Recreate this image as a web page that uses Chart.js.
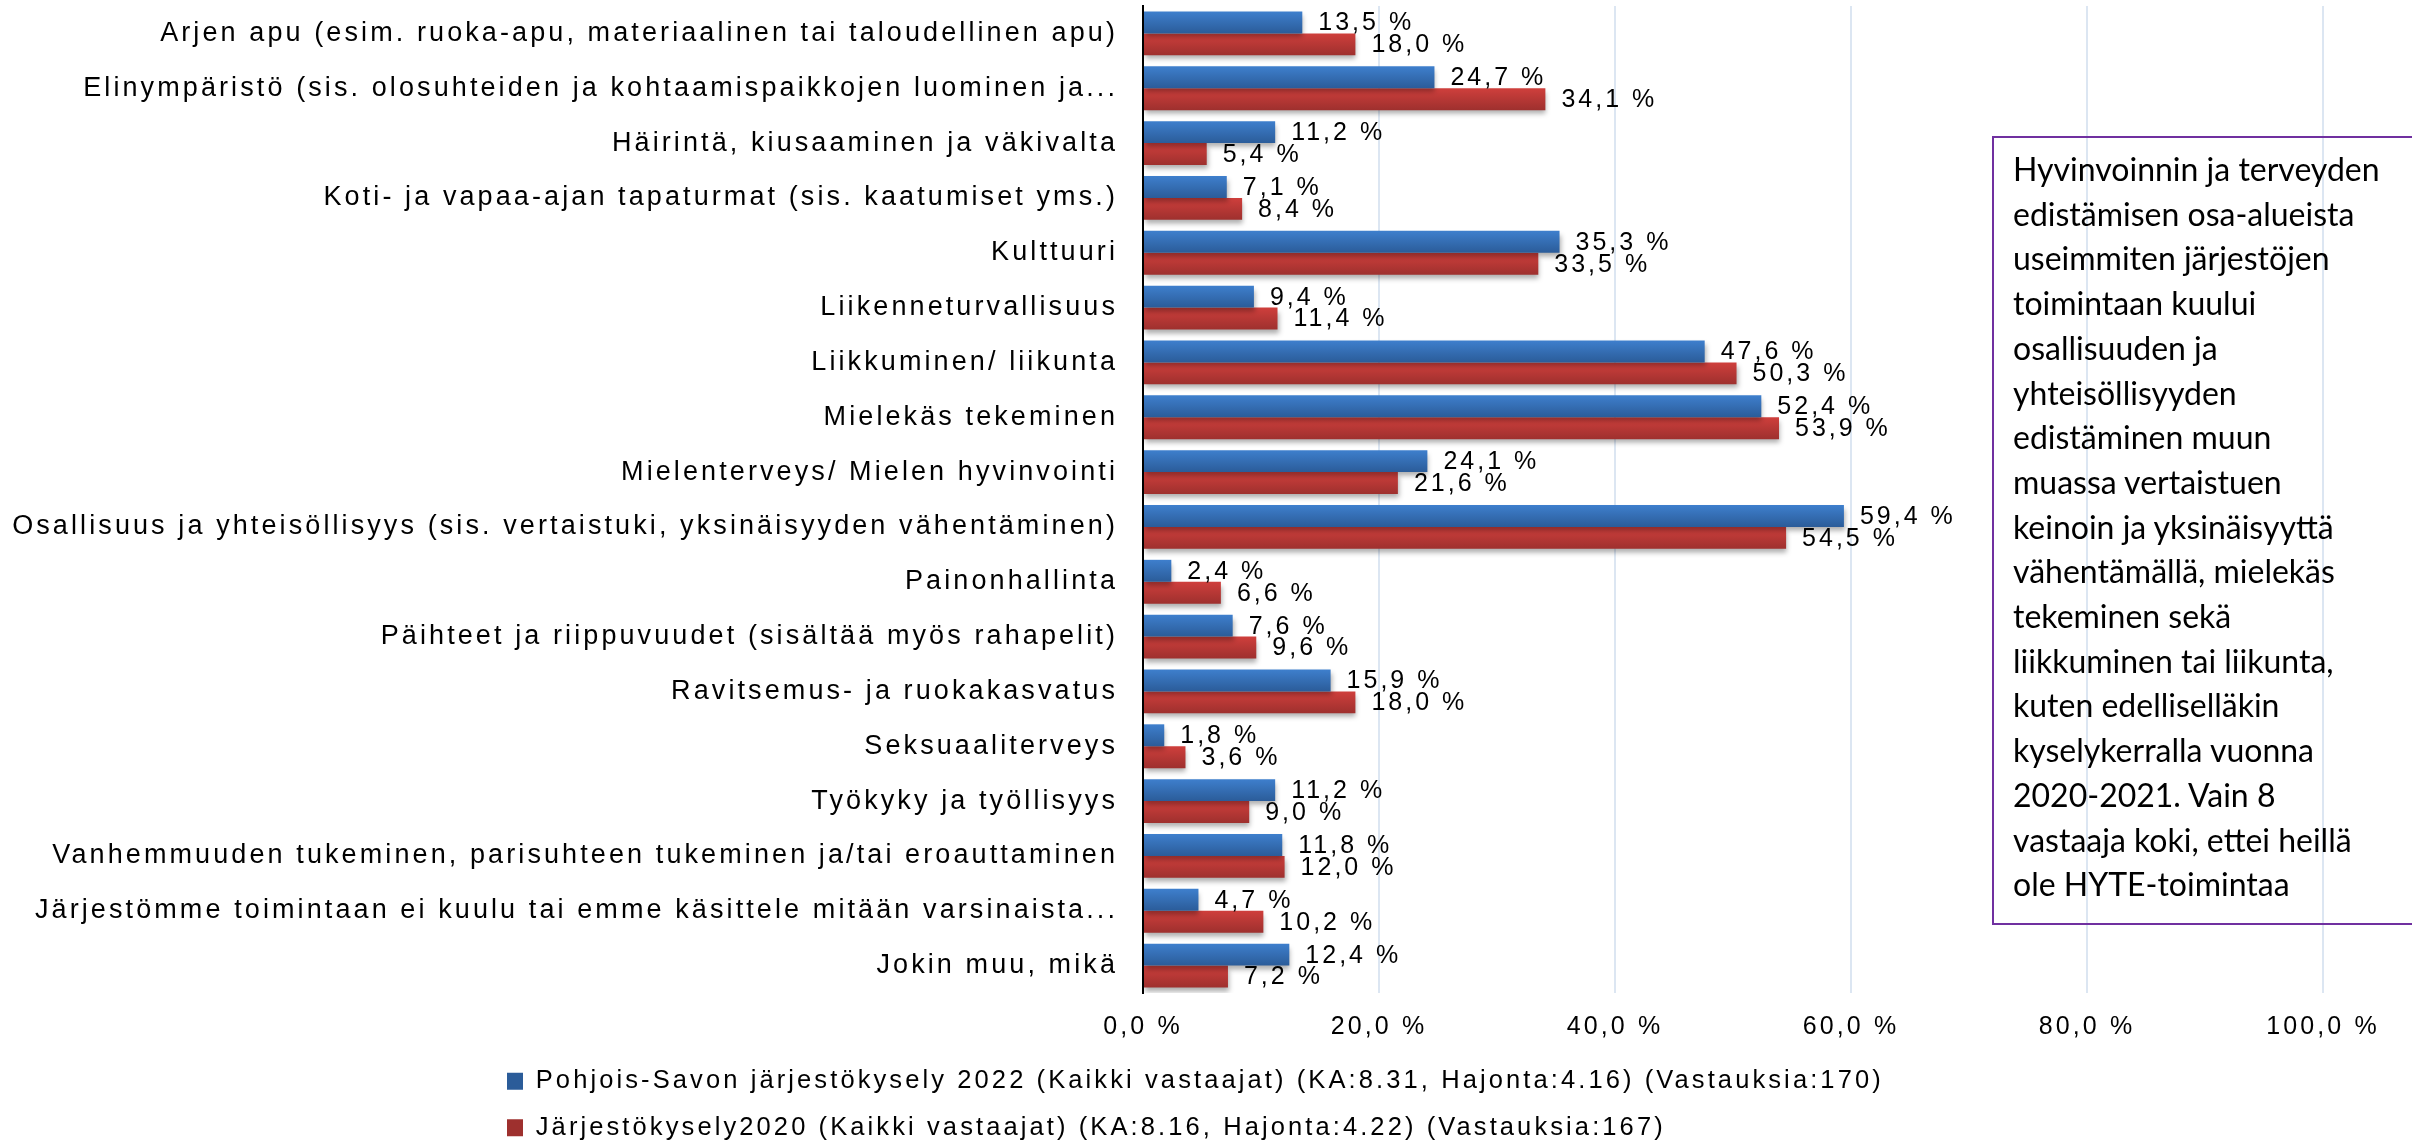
<!DOCTYPE html>
<html>
<head>
<meta charset="utf-8">
<script src="https://cdn.jsdelivr.net/npm/chart.js@4/dist/chart.umd.min.js"></script>
<style>
  html, body { margin: 0; padding: 0; background: #fff; }
  #wrap { position: relative; width: 2412px; height: 1141px; overflow: hidden; }
  #c { position: absolute; left: 0; top: 0; }
  #note {
    position: absolute; left: 1992px; top: 136px; width: 460px; height: 789px;
    border: 2px solid #7030a0; box-sizing: border-box;
    padding: 9px 0 0 19px;
    font-family: Lato, "Open Sans", sans-serif; font-size: 32px; line-height: 44.7px;
    color: #000; white-space: nowrap;
  }
</style>
</head>
<body>
<div id="wrap">
<canvas id="c" width="2412" height="1141"></canvas>
<div id="note">Hyvinvoinnin ja terveyden<br>edistämisen osa-alueista<br>useimmiten järjestöjen<br>toimintaan kuului<br>osallisuuden ja<br>yhteisöllisyyden<br>edistäminen muun<br>muassa vertaistuen<br>keinoin ja yksinäisyyttä<br>vähentämällä, mielekäs<br>tekeminen sekä<br>liikkuminen tai liikunta,<br>kuten edelliselläkin<br>kyselykerralla vuonna<br>2020-2021. Vain 8<br>vastaaja koki, ettei heillä<br>ole HYTE-toimintaa</div>
</div>
<script>
const categories = [
  "Arjen apu (esim. ruoka-apu, materiaalinen tai taloudellinen apu)",
  "Elinympäristö (sis. olosuhteiden ja kohtaamispaikkojen luominen ja...",
  "Häirintä, kiusaaminen ja väkivalta",
  "Koti- ja vapaa-ajan tapaturmat (sis. kaatumiset yms.)",
  "Kulttuuri",
  "Liikenneturvallisuus",
  "Liikkuminen/ liikunta",
  "Mielekäs tekeminen",
  "Mielenterveys/ Mielen hyvinvointi",
  "Osallisuus ja yhteisöllisyys (sis. vertaistuki, yksinäisyyden vähentäminen)",
  "Painonhallinta",
  "Päihteet ja riippuvuudet (sisältää myös rahapelit)",
  "Ravitsemus- ja ruokakasvatus",
  "Seksuaaliterveys",
  "Työkyky ja työllisyys",
  "Vanhemmuuden tukeminen, parisuhteen tukeminen ja/tai eroauttaminen",
  "Järjestömme toimintaan ei kuulu tai emme käsittele mitään varsinaista...",
  "Jokin muu, mikä"
];
const series2022 = [13.5, 24.7, 11.2, 7.1, 35.3, 9.4, 47.6, 52.4, 24.1, 59.4, 2.4, 7.6, 15.9, 1.8, 11.2, 11.8, 4.7, 12.4];
const series2020 = [18.0, 34.1, 5.4, 8.4, 33.5, 11.4, 50.3, 53.9, 21.6, 54.5, 6.6, 9.6, 18.0, 3.6, 9.0, 12.0, 10.2, 7.2];
const seriesNames = [
  "Pohjois-Savon järjestökysely 2022 (Kaikki vastaajat) (KA:8.31, Hajonta:4.16) (Vastauksia:170)",
  "Järjestökysely2020 (Kaikki vastaajat) (KA:8.16, Hajonta:4.22) (Vastauksia:167)"
];
const xTickLabels = ["0,0 %", "20,0 %", "40,0 %", "60,0 %", "80,0 %", "100,0 %"];

const FONT = "'Liberation Sans', Arial, sans-serif";
const colorStops = [
  ['#3e7fcd', '#2b5c99', '#3570b8'],
  ['#cf3f3c', '#9e302e', '#be3936']
];
const CAT_PCT = 0.8;

function barFill(dsIndex) {
  return (c) => {
    const stops = colorStops[dsIndex];
    const chart = c.chart;
    const ys = chart.scales && chart.scales.y;
    if (c.dataIndex === undefined || !ys || !chart.chartArea) return stops[2];
    const center = ys.getPixelForValue(c.dataIndex);
    const pitch = Math.abs(ys.getPixelForValue(1) - ys.getPixelForValue(0));
    if (!isFinite(center) || !isFinite(pitch) || pitch === 0) return stops[2];
    const bw = pitch * CAT_PCT / 2;
    const top = center - pitch * CAT_PCT / 2 + dsIndex * bw;
    const g = chart.ctx.createLinearGradient(0, top, 0, top + bw);
    g.addColorStop(0, stops[0]);
    g.addColorStop(1, stops[1]);
    return g;
  };
}

function fmt(v) { return v.toFixed(1).replace('.', ',') + ' %'; }

const spacingPlugin = {
  id: 'spacing',
  beforeUpdate(chart) { chart.ctx.letterSpacing = '3.1px'; },
  beforeDraw(chart) {
    chart.ctx.letterSpacing = '3.1px';
    if (chart.legend) {
      chart.legend.left = 486;
      chart.legend.top = 1047.5;
    }
  },
  beforeDatasetsDraw(chart) {
    const ctx = chart.ctx;
    ctx.save();
    ctx.shadowColor = 'rgba(0,0,0,0.32)';
    ctx.shadowBlur = 5;
    ctx.shadowOffsetX = 1;
    ctx.shadowOffsetY = 4;
  },
  afterDatasetsDraw(chart) {
    const ctx = chart.ctx;
    ctx.restore();
    ctx.save();
    ctx.letterSpacing = '3px';
    ctx.font = '25px ' + FONT;
    ctx.fillStyle = '#000';
    ctx.textAlign = 'left';
    ctx.textBaseline = 'middle';
    chart.data.datasets.forEach((ds, di) => {
      const meta = chart.getDatasetMeta(di);
      meta.data.forEach((el, i) => {
        ctx.fillText(fmt(ds.data[i]), el.x + 16, el.y + 1);
      });
    });
    ctx.restore();
  }
};

new Chart(document.getElementById('c'), {
  type: 'bar',
  data: {
    labels: categories,
    datasets: [
      { label: seriesNames[0], data: series2022, backgroundColor: barFill(0), borderWidth: 0 },
      { label: seriesNames[1], data: series2020, backgroundColor: barFill(1), borderWidth: 0 }
    ]
  },
  options: {
    indexAxis: 'y',
    responsive: false,
    animation: false,
    events: [],
    datasets: { bar: { categoryPercentage: CAT_PCT, barPercentage: 1.0 } },
    layout: { padding: { top: 6, right: 89, left: 0, bottom: 0 } },
    scales: {
      y: {
        type: 'category',
        grid: { display: false, drawTicks: false },
        border: { display: true, color: '#000', width: 2, z: 1 },
        ticks: { color: '#000', font: { family: FONT, size: 27 }, padding: 25, autoSkip: false },
        afterFit(s) { s.width = 1143; s.paddingTop = 0; s.paddingBottom = 0; }
      },
      x: {
        type: 'linear',
        min: 0, max: 100,
        grid: { color: '#dce6f2', lineWidth: 2, drawTicks: false },
        border: { display: false },
        ticks: {
          stepSize: 20,
          color: '#000',
          font: { family: FONT, size: 25 },
          padding: 19,
          callback: (v, i) => xTickLabels[i]
        },
        afterFit(s) { s.height = 45; }
      }
    },
    plugins: {
      tooltip: { enabled: false },
      legend: {
        display: true,
        position: 'bottom',
        align: 'start',
        labels: {
          color: '#000',
          font: { family: FONT, size: 25.5 },
          boxWidth: 16,
          boxHeight: 17,
          padding: 21
        }
      }
    }
  },
  plugins: [spacingPlugin]
});
</script>
</body>
</html>
